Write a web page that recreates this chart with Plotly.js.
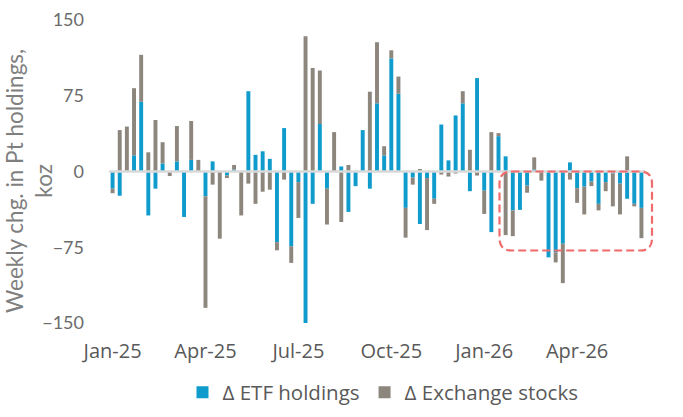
<!DOCTYPE html>
<html>
<head>
<meta charset="utf-8">
<script src="https://cdn.plot.ly/plotly-3.0.1.min.js"></script>
<style>
html,body{margin:0;padding:0;background:#fff;}
#chart{width:683px;height:417px;}
</style>
</head>
<body>
<div id="chart"></div>
<script>
// Weekly observations (Fridays), first week and count
const firstWeek = '2025-01-03';
const weekCount = 75;

// Δ ETF holdings, koz
const etfHoldings = [
  -17, -24, 0, 16, 69, -43.5, -17, 8, 0, 10,
  -45, 11.5, 0, -24.5, 10, 0, -4, 2, 0, 79.5,
  16.5, 20, 12.5, -70, 43, -74, -10.5, -150, -32, 47,
  -17, 0, 5, -40, -14.5, 41, -17, 67.5, 16, 112,
  77, -36, -6, -52, -6.5, -27, 46.5, 11, 55.5, 67.5,
  -19.5, 92.5, -19, -60, 35, 15, -38.5, -38, -14, 2,
  0, -85, -80, -71.5, 9, -16.5, -15, -10, -32, -10.5,
  -2, -12, -27, -32, -36
];

// Δ Exchange stocks, koz
const exchangeStocks = [
  -4.5, 41, 44.5, 66.5, 46.5, 19, 51, 21, -4.5, 35,
  0, 38.5, 11.5, -110.5, -13, -66.5, -2.5, 4.5, -43.5, -12,
  -32, -20, -18, -8, -8, -16.5, -35.5, 134, 102.5, 53,
  -35.5, 39, -50, 6.5, 0, 0, 79, 60.5, 9, 8,
  17, -29.5, -7, 2.5, -51.5, -5, -3, -5, -2, 12,
  21.5, -4, -23, 39, 3, -63, -25.5, 0, -7, 12,
  -9, 0, -10, -39, -8, -14.5, -27.5, -4.5, -6.5, -9,
  -32.5, -30.5, 15, -2.5, -30
];

const seriesNames = ['\u0394 ETF holdings', '\u0394 Exchange stocks'];
const tickLabels = ['Jan-25', 'Apr-25', 'Jul-25', 'Oct-25', 'Jan-26', 'Apr-26'];
const tickEvery = 13; // a label every 13 weeks
const yTicks = [-150, -75, 0, 75, 150];

// build weekly date categories
const DAY = 86400000;
const t0 = Date.parse(firstWeek + 'T00:00:00Z');
const weeks = [];
for (let i = 0; i < weekCount; i++) {
  weeks.push(new Date(t0 + i * 7 * DAY).toISOString().slice(0, 10));
}
const tickVals = tickLabels.map((_, i) => weeks[i * tickEvery]);
const iso = ms => new Date(ms).toISOString().replace('T', ' ').slice(0, 19);
const xRange = [iso(t0 - 3.5 * DAY), iso(t0 + (weekCount - 1) * 7 * DAY + 3.5 * DAY)];

const BLUE = '#0f9bcb';
const GREY = '#8c867d';

const traces = [
  {type: 'bar', name: seriesNames[0], x: weeks, y: etfHoldings,
   marker: {color: BLUE}, hoverinfo: 'x+y+name'},
  {type: 'bar', name: seriesNames[1], x: weeks, y: exchangeStocks,
   marker: {color: GREY}, hoverinfo: 'x+y+name'}
];

// layout geometry (pixels)
const W = 683, H = 417;
const M = {l: 109, r: 38, t: 20, b: 94};
const PW = W - M.l - M.r, PH = H - M.t - M.b;
const px = x => (x - M.l) / PW;
const py = y => (H - M.b - y) / PH;

// rounded dashed highlight box
const bx0 = px(499.5), bx1 = px(652), by1 = py(171.5), by0 = py(250.5);
const rx = 12 / PW, ry = 12 / PH;
const boxPath = `M${bx0+rx},${by1} L${bx1-rx},${by1} Q${bx1},${by1} ${bx1},${by1-ry} ` +
  `L${bx1},${by0+ry} Q${bx1},${by0} ${bx1-rx},${by0} L${bx0+rx},${by0} ` +
  `Q${bx0},${by0} ${bx0},${by0+ry} L${bx0},${by1-ry} Q${bx0},${by1} ${bx0+rx},${by1} Z`;

const FONT = 'Lato, "Open Sans", sans-serif';
const FONT2 = '"Open Sans", Lato, sans-serif';

const layout = {
  width: W, height: H,
  margin: M,
  paper_bgcolor: '#ffffff',
  plot_bgcolor: '#ffffff',
  barmode: 'relative',
  bargap: 0.45,
  font: {family: FONT, color: '#595959', size: 18},
  showlegend: true,
  legend: {
    orientation: 'h', xref: 'paper', yref: 'container',
    x: px(383), xanchor: 'center', y: 1 - 372.5 / H, yanchor: 'top',
    font: {family: FONT2, size: 20.5, color: '#595959'},
    traceorder: 'normal', itemclick: false, bgcolor: 'rgba(0,0,0,0)'
  },
  xaxis: {
    type: 'date', range: xRange, automargin: false,
    tickmode: 'array', tickvals: tickVals, ticktext: tickLabels,
    showgrid: false, zeroline: false, showline: false, ticks: '',
    ticklabelstandoff: 14,
    tickfont: {family: FONT2, size: 20, color: '#595959'},
    fixedrange: true
  },
  yaxis: {
    range: [-150, 150], tickmode: 'array', tickvals: yTicks, automargin: false,
    showgrid: false, zeroline: false, showline: false, ticks: '',
    ticklabelstandoff: 24,
    tickfont: {family: FONT, size: 18, color: '#6b6b6b'},
    fixedrange: true
  },
  annotations: [{
    xref: 'paper', yref: 'paper', x: px(29), y: py(181),
    xanchor: 'center', yanchor: 'middle', textangle: -90, showarrow: false,
    text: 'Weekly chg. in Pt holdings,<br>koz', align: 'center',
    font: {family: FONT, size: 22.5, color: '#7f7f7f'}
  }],
  shapes: [
    {type: 'line', xref: 'paper', yref: 'y', x0: 0, x1: 1, y0: 0, y1: 0,
     line: {color: '#d9d9d9', width: 2.5}, layer: 'above'},
    {type: 'path', xref: 'paper', yref: 'paper', path: boxPath,
     line: {color: '#ef6b6b', width: 2.2, dash: '8px,4px'}, layer: 'above'}
  ]
};

Plotly.newPlot('chart', traces, layout, {displayModeBar: false, staticPlot: true});
</script>
</body>
</html>
